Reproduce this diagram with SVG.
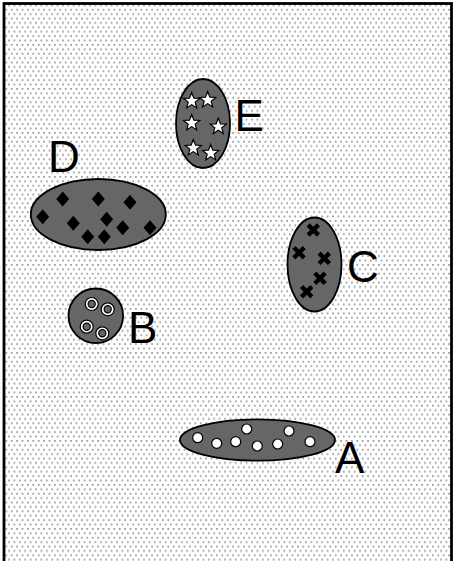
<svg xmlns="http://www.w3.org/2000/svg" width="453" height="561" viewBox="0 0 453 561">
<style>
.blob{fill:#666;stroke:#000;stroke-width:1.8}
.lbl{font-family:"Liberation Sans",Arial,sans-serif;font-size:44px;fill:#000}
.star{fill:#fff;stroke:#000;stroke-width:1.2;stroke-linejoin:miter}
.dia{fill:#000}
.xm{stroke:#000;stroke-width:4.4;stroke-linecap:square}
.dot{fill:#fff;stroke:#000;stroke-width:1.2}
</style>
<defs>
<pattern id="bg" width="5.4" height="8.8" patternUnits="userSpaceOnUse">
<rect width="5.4" height="8.8" fill="#fff"/>
<rect x="0" y="0" width="1.8" height="1.8" fill="#a0a0a0"/>
<rect x="2.7" y="4.4" width="1.8" height="1.8" fill="#a0a0a0"/>
</pattern>
<path id="st" class="star" d="M0,-8.5 L2.2,-2.9 L8.1,-2.6 L3.5,1.1 L5,6.9 L0,3.6 L-5,6.9 L-3.5,1.1 L-8.1,-2.6 L-2.2,-2.9 Z"/>
<path id="dm" class="dia" d="M0,-7.5 L6.5,0 L0,7.5 L-6.5,0 Z"/>
<g id="xx"><path class="xm" d="M-3.6,-3.6 L3.6,3.6 M3.6,-3.6 L-3.6,3.6"/></g>
<g id="ring"><circle r="6.5" fill="#fff" stroke="#000" stroke-width="1.2"/><circle r="3.6" fill="#666" stroke="#000" stroke-width="1.2"/></g>
</defs>
<rect x="0" y="0" width="453" height="561" fill="#fff"/>
<rect x="4" y="3.5" width="447.5" height="620" fill="url(#bg)" stroke="#000" stroke-width="2.8"/>

<g id="E">
<ellipse class="blob" cx="203" cy="123.5" rx="27" ry="44.5"/>
<use href="#st" x="191.7" y="101"/>
<use href="#st" x="207.7" y="100"/>
<use href="#st" x="191.7" y="123"/>
<use href="#st" x="218.3" y="126.7"/>
<use href="#st" x="193.3" y="148"/>
<use href="#st" x="210.7" y="153"/>
<text class="lbl" x="234.5" y="131">E</text>
</g>

<g id="D">
<ellipse class="blob" cx="98.3" cy="214.5" rx="67.5" ry="35.5"/>
<use href="#dm" x="62.7" y="199"/>
<use href="#dm" x="98.3" y="199"/>
<use href="#dm" x="130" y="202.3"/>
<use href="#dm" x="42.7" y="216.7"/>
<use href="#dm" x="73.3" y="223.3"/>
<use href="#dm" x="106.7" y="219.3"/>
<use href="#dm" x="122.7" y="227.7"/>
<use href="#dm" x="150" y="227.7"/>
<use href="#dm" x="87.7" y="236.7"/>
<use href="#dm" x="104.3" y="236.7"/>
<text class="lbl" x="48" y="172">D</text>
</g>

<g id="C">
<ellipse class="blob" cx="314.5" cy="264.5" rx="27" ry="47"/>
<use href="#xx" x="313.3" y="230"/>
<use href="#xx" x="299" y="252.7"/>
<use href="#xx" x="324.3" y="258.3"/>
<use href="#xx" x="320" y="278.3"/>
<use href="#xx" x="306.7" y="291.7"/>
<text class="lbl" x="347" y="282">C</text>
</g>

<g id="B">
<circle class="blob" cx="95.8" cy="315.8" r="27.3"/>
<use href="#ring" x="91.7" y="304"/>
<use href="#ring" x="107.7" y="309.3"/>
<use href="#ring" x="86.7" y="326.7"/>
<use href="#ring" x="102.3" y="333.3"/>
<text class="lbl" x="128" y="343">B</text>
</g>

<g id="A">
<ellipse class="blob" cx="257.5" cy="440" rx="77.5" ry="20.7"/>
<circle class="dot" cx="197.7" cy="437.7" r="5"/>
<circle class="dot" cx="216.7" cy="443.3" r="5"/>
<circle class="dot" cx="235.7" cy="441.7" r="5"/>
<circle class="dot" cx="246.7" cy="429" r="5"/>
<circle class="dot" cx="257.3" cy="446" r="5"/>
<circle class="dot" cx="277.7" cy="444" r="5"/>
<circle class="dot" cx="289" cy="431" r="5"/>
<circle class="dot" cx="310" cy="441.7" r="5"/>
<text class="lbl" x="335" y="473">A</text>
</g>

<g id="connectors"/>
</svg>
